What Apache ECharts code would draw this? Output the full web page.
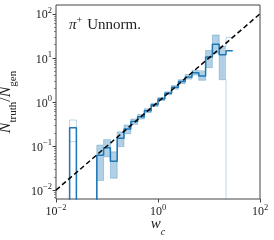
<!DOCTYPE html>
<html><head><meta charset="utf-8">
<script src="https://cdn.jsdelivr.net/npm/echarts@6/dist/echarts.min.js"></script>
<style>html,body{margin:0;padding:0;background:#fff}#c{width:274px;height:240px}</style>
</head><body><div id="c"></div>
<script>
// bin edges (log-spaced, 30 bins from 1e-2 to 1e2; only the filled part listed)
const binEdges = [0.01, 0.01359, 0.01848, 0.02512, 0.03415, 0.04642, 0.0631, 0.08577, 0.1166, 0.1585,
  0.2154, 0.2929, 0.3981, 0.5412, 0.7356, 1.0, 1.359, 1.848, 2.512, 3.415,
  4.642, 6.31, 8.577, 11.66, 15.85, 21.54, 29.29];
// ratio per bin (0 = empty)
const ratio = [0, 0, 0.26, 0, 0, 0, 0.062, 0.092, 0.045, 0.15,
  0.245, 0.36, 0.46, 0.63, 0.86, 1.17, 1.58, 2.15, 2.9, 3.7,
  4.6, 3.9, 10.4, 20.4, 11.7, 14.4];
const bandLow = [0, 0, 0.126, 0, 0, 0, 0.0166, 0.057, 0.0186, 0.097,
  0.19, 0.31, 0.41, 0.57, 0.79, 1.08, 1.46, 1.95, 2.6, 3.3,
  4.1, 3.1, 6.0, 12.8, 3.2, 0];
const bandHigh = [0, 0, 0.39, 0, 0, 0, 0.105, 0.14, 0.074, 0.21,
  0.30, 0.41, 0.52, 0.70, 0.93, 1.26, 1.70, 2.35, 3.2, 4.2,
  5.2, 5.0, 14.7, 33, 18, 29];
const refLineX = [0.01, 100];
const refLineY = [0.01, 100];
const xMajor = [0.01, 1, 100];
const yMajor = [0.01, 0.1, 1, 10, 100];
const yMinor = [0.007, 0.008, 0.009, 0.02, 0.03, 0.04, 0.05, 0.06, 0.07, 0.08, 0.09,
  0.2, 0.3, 0.4, 0.5, 0.6, 0.7, 0.8, 0.9, 2, 3, 4, 5, 6, 7, 8, 9, 20, 30, 40, 50, 60, 70, 80, 90];
const xRange = [0.01, 100];
const yRange = [0.0063, 158];

const L = v => v > 0 ? Math.log10(v) : -6;
const fmtPow = v => { const e = Math.round(v); return '{b|10}{s|' + String(e).replace('-', '\u2212') + '}'; };
const FF = 'Liberation Serif';
const TXT = '#222';
const C0 = '#1f77b4';
const bandFill = 'rgba(31,119,180,0.35)';
const bandEdge = 'rgba(31,119,180,0.3)';

const isolated = ratio.map((v, i) => v > 0 && !(ratio[i - 1] > 0) && !(ratio[i + 1] > 0));
const stepPts = ratio.map((v, i) => [L(binEdges[i]), L(v)]);
stepPts.push([L(binEdges[ratio.length]), L(ratio[ratio.length - 1])]);
const lowPts = bandLow.map((v, i) => [L(binEdges[i]), L(v)]);
lowPts.push([L(binEdges[bandLow.length]), L(bandLow[bandLow.length - 1])]);
const highPts = bandHigh.map((v, i) => [L(binEdges[i]), L(v)]);
highPts.push([L(binEdges[bandHigh.length]), L(bandHigh[bandHigh.length - 1])]);
const rects = [];
bandLow.forEach((lo, i) => { if (lo > 0 && bandHigh[i] > 0 && !isolated[i]) rects.push([L(binEdges[i]), L(binEdges[i + 1]), L(lo), L(bandHigh[i])]); });

const rich = {
  b: {fontFamily: FF, fontSize: 12, fontWeight: 'normal', color: TXT, lineHeight: 15, verticalAlign: 'bottom'},
  s: {fontFamily: FF, fontSize: 8.5, fontWeight: 'normal', color: TXT, lineHeight: 8, verticalAlign: 'top'}
};
const chart = echarts.init(document.getElementById('c'), null, {renderer: 'canvas'});
chart.setOption({
  animation: false,
  grid: {left: 56, right: 14, top: 5, bottom: 41, containLabel: false, outerBoundsMode: 'none',
    show: true, borderColor: '#444', borderWidth: 1, backgroundColor: 'transparent'},
  xAxis: [{
    type: 'value', min: L(xRange[0]), max: L(xRange[1]),
    axisLine: {show: false, onZero: false}, splitLine: {show: false},
    axisTick: {show: true, length: 3.5, lineStyle: {color: '#444'}, customValues: xMajor.map(L)},
    axisLabel: {customValues: xMajor.map(L), formatter: fmtPow, rich: rich, margin: 4},
    name: '{i|w}{sub|c}', nameLocation: 'middle', nameGap: 18, nameMoveOverlap: false,
    nameTextStyle: {rich: {
      i: {fontFamily: FF, fontStyle: 'italic', fontSize: 15, color: TXT, lineHeight: 15, verticalAlign: 'top'},
      sub: {fontFamily: FF, fontStyle: 'italic', fontSize: 10, color: TXT, lineHeight: 20, verticalAlign: 'bottom'}
    }}
  }],
  yAxis: [{
    type: 'value', min: L(yRange[0]), max: L(yRange[1]),
    axisLine: {show: false, onZero: false}, splitLine: {show: false},
    axisTick: {show: true, length: 3.5, lineStyle: {color: '#444'}, customValues: yMajor.map(L)},
    axisLabel: {customValues: yMajor.map(L), formatter: fmtPow, rich: rich, margin: 4},
    name: '{i|N}{sub|truth}{n|/}{i|N}{sub|gen}', nameLocation: 'middle', nameGap: 37, nameRotate: 90, nameMoveOverlap: false,
    nameTextStyle: {rich: {
      i: {fontFamily: FF, fontStyle: 'italic', fontSize: 16, color: TXT, lineHeight: 16, verticalAlign: 'top'},
      n: {fontFamily: FF, fontSize: 16, color: TXT, lineHeight: 16, verticalAlign: 'top'},
      sub: {fontFamily: FF, fontSize: 11, color: TXT, lineHeight: 21, verticalAlign: 'bottom'}
    }}
  }, {
    type: 'value', min: L(yRange[0]), max: L(yRange[1]), position: 'left',
    axisLine: {show: false, onZero: false}, splitLine: {show: false}, axisLabel: {show: false},
    axisTick: {show: true, length: 2, lineStyle: {color: '#444', width: 0.6}, customValues: yMinor.map(L)}
  }],
  title: {
    text: '{p|\u03c0}{s|+} {t|Unnorm.}', left: 64, top: 10,
    textStyle: {fontWeight: 'normal', rich: {
      p: {fontFamily: FF, fontStyle: 'italic', fontWeight: 'normal', fontSize: 15, color: TXT, lineHeight: 16, verticalAlign: 'bottom'},
      s: {fontFamily: FF, fontWeight: 'normal', fontSize: 10, color: TXT, lineHeight: 10, verticalAlign: 'top'},
      t: {fontFamily: FF, fontWeight: 'normal', fontSize: 15, color: TXT, lineHeight: 16, verticalAlign: 'bottom'}
    }}
  },
  series: [
    {
      type: 'custom', clip: true, z: 1, silent: true,
      renderItem: (params, api) => {
        const p0 = api.coord([api.value(0), api.value(3)]);
        const p1 = api.coord([api.value(1), api.value(2)]);
        return {type: 'rect', shape: {x: p0[0], y: p0[1], width: p1[0] - p0[0], height: p1[1] - p0[1]}, style: {fill: bandFill}};
      },
      encode: {x: [0, 1], y: [2, 3]},
      data: rects
    },
    {type: 'line', step: 'end', data: lowPts, showSymbol: false, clip: true, z: 2, lineStyle: {color: bandEdge, width: 1}},
    {type: 'line', step: 'end', data: highPts, showSymbol: false, clip: true, z: 2, lineStyle: {color: bandEdge, width: 1}},
    {type: 'line', step: 'end', data: stepPts, showSymbol: false, clip: true, z: 3, lineStyle: {color: C0, width: 1.5}},
    {type: 'line', data: refLineX.map((x, i) => [L(x), L(refLineY[i])]), showSymbol: false, clip: true, z: 4,
      lineStyle: {color: '#000', width: 1.5, type: [5, 3]}}
  ]
});
</script></body></html>
